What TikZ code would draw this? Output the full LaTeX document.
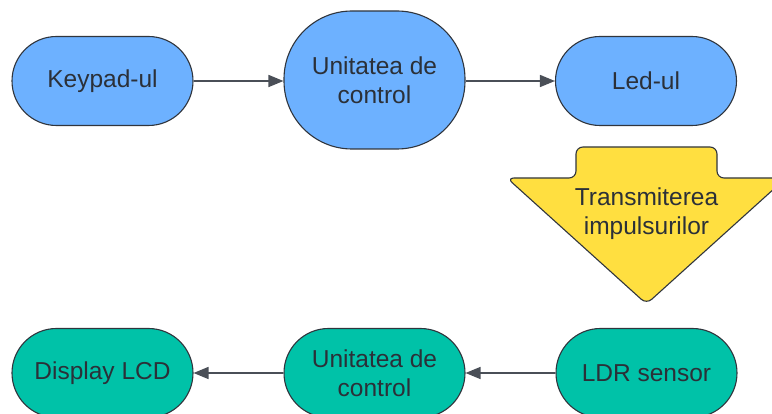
\documentclass[tikz,border=0pt]{standalone}
\usepackage{fontspec}
\setmainfont{Liberation Sans}
\usetikzlibrary{arrows.meta}
\definecolor{bluefill}{HTML}{6DB1FF}
\definecolor{tealfill}{HTML}{00C2A8}
\definecolor{yellowfill}{HTML}{FFDF40}
\definecolor{txt}{HTML}{2B3038}
\definecolor{edge}{HTML}{30353D}
\definecolor{conn}{HTML}{4A4F57}
\tikzset{
  pill/.style={draw=edge, line width=1.1pt, rectangle, rounded corners=44.5pt,
    minimum width=181pt, minimum height=89pt, inner sep=0pt, align=center,
    text=txt, font=\fontsize{24.5}{29}\selectfont},
  bigbox/.style={pill, rounded corners=68pt, minimum height=138pt},
  bluebox/.style={fill=bluefill},
  tealbox/.style={fill=tealfill},
  conn/.style={draw=conn, line width=1.5pt, -{Triangle[length=15pt,width=12pt]}},
  lbl/.style={align=center, text=txt, font=\fontsize{24.5}{29}\selectfont}
}
\begin{document}
\begin{tikzpicture}[x=1pt,y=-1pt]
\useasboundingbox (0,0) rectangle (772,414);
\clip (0,0) rectangle (772,414);
% top row
\node[pill,bluebox] (keypad) at (102.5,81) {Keypad-ul};
\node[bigbox,bluebox] (ctrl1) at (374.5,80) {Unitatea de\\control};
\node[pill,bluebox] (led) at (646,81) {Led-ul};
% bottom row
\node[pill,tealbox] (ldr) at (646.5,373) {LDR sensor};
\node[pill,tealbox] (ctrl2) at (374.5,373) {Unitatea de\\control};
\node[pill,tealbox] (lcd) at (102.5,373) {Display LCD};
% yellow arrow
\draw[draw=edge, line width=1.1pt, fill=yellowfill, rounded corners=7pt]
  (576,147) -- (717,147) -- (717,178) -- (786,178) -- (646.5,304) -- (507,178) -- (576,178) -- cycle;
\node[lbl] (trans) at (646.5,214) {Transmiterea\\impulsurilor};
% connectors
\draw[conn] (keypad.east) -- (keypad.east -| ctrl1.west);
\draw[conn] (ctrl1.east |- led.west) -- (led.west);
\draw[conn] (ldr.west) -- (ctrl2.east);
\draw[conn] (ctrl2.west) -- (lcd.east);
\end{tikzpicture}
\end{document}
